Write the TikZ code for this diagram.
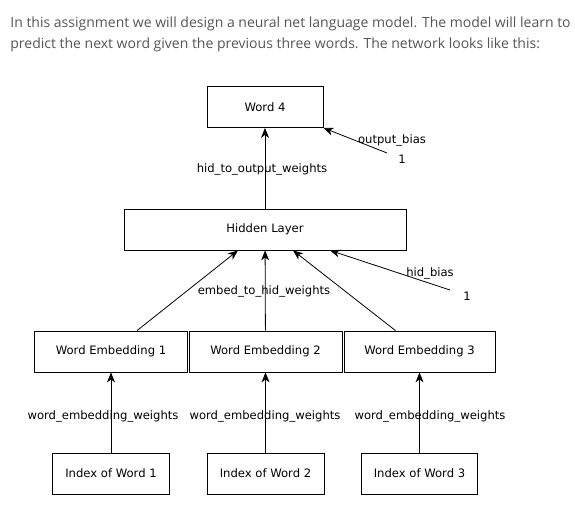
\documentclass[tikz,border=0pt]{standalone}
\usepackage{fontspec}
\setmainfont{DejaVu Sans}
\newfontfamily\introfont{Open Sans}
\usetikzlibrary{arrows.meta}
\definecolor{introgrey}{HTML}{555555}

\begin{document}
\begin{tikzpicture}[x=1pt,y=-1pt,>={Stealth[length=10pt,width=8pt,inset=3pt]},line width=0.8pt,
    box/.style={draw,inner sep=0pt,minimum height=41pt,font=\fontsize{11.6}{13}\selectfont},
    lbl/.style={inner sep=0pt,font=\fontsize{11.6}{13}\selectfont}]

            \useasboundingbox (0,0) rectangle (575,505);

            \node[anchor=north west,inner sep=0pt,align=left,text=introgrey,
                font=\introfont\fontsize{14}{21}\selectfont] (intro) at (10,16)
                {In this assignment we will design a neural net language model. The model will learn to\\
                 predict the next word given the previous three words. The network looks like this:};

            \node[box, minimum width=116pt] (word4) at (265,107) {Word 4};
            \node[box, minimum width=282pt] (hidden) at (265,229.5) {Hidden Layer};
            \node[box, minimum width=153pt] (emb1) at (111,351.5) {Word Embedding 1};
            \node[box, minimum width=153pt] (emb2) at (265.5,351.5) {Word Embedding 2};
            \node[box, minimum width=151pt] (emb3) at (419.5,351.5) {Word Embedding 3};
            \node[box, minimum width=117pt] (idx1) at (111,473.5) {Index of Word 1};
            \node[box, minimum width=117pt] (idx2) at (265.5,473.5) {Index of Word 2};
            \node[box, minimum width=116pt] (idx3) at (419.5,473.5) {Index of Word 3};

            \coordinate (outbias) at (387,153);
            \coordinate (hidbias) at (450,290);

            \draw[->] (idx1) to (emb1);
            \draw[->] (idx2) to (emb2);
            \draw[->] (idx3) to (emb3);
            \draw[->] ([xshift=26pt]emb1.north) to ([xshift=-27pt]hidden.south);
            \draw[->] (emb2) to (hidden);
            \draw[->] ([xshift=-24pt]emb3.north) to ([xshift=28pt]hidden.south);
            \draw[->] (hidbias) to ([xshift=65pt]hidden.south);
            \draw[->] (hidden) to (word4);
            \draw[->] (outbias) to (word4.south east);

            \node[lbl] (wew1) at (103,416) {word\_embedding\_weights};
            \node[lbl] (wew2) at (265,416) {word\_embedding\_weights};
            \node[lbl] (wew3) at (430,416) {word\_embedding\_weights};
            \node[lbl] (ehw) at (264,291) {embed\_to\_hid\_weights};
            \node[lbl] (hb) at (430,273) {hid\_bias};
            \node[lbl] (hbone) at (467,296) {1};
            \node[lbl] (how) at (262,169) {hid\_to\_output\_weights};
            \node[lbl] (ob) at (392,140) {output\_bias};
            \node[lbl] (obone) at (402,159) {1};

            ;
        \end{tikzpicture}
\end{document}
